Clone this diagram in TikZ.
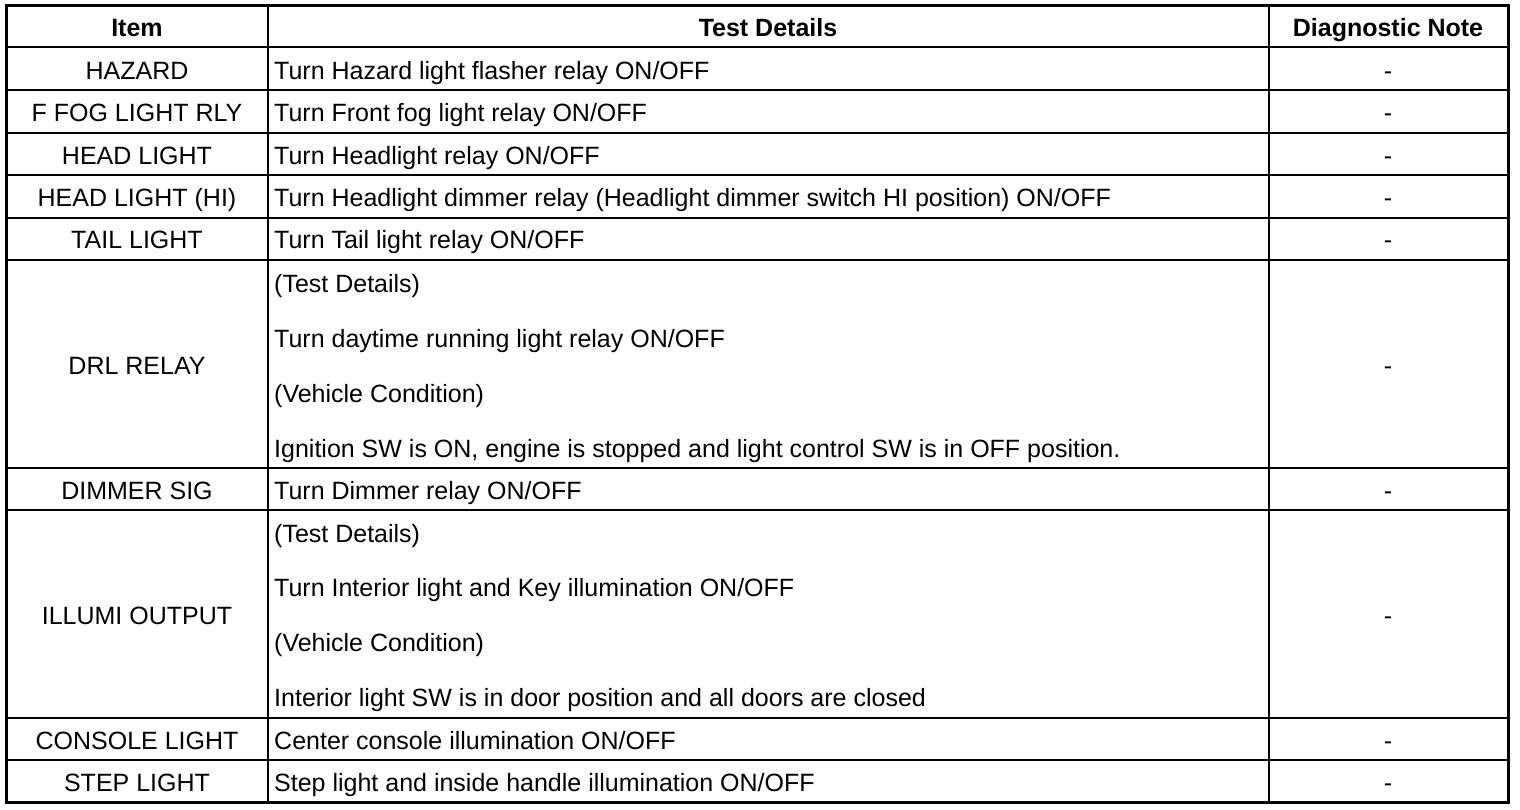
\documentclass[tikz,border=0pt]{standalone}
\usepackage{fontspec}
\setmainfont{Liberation Sans}
\begin{document}
\begin{tikzpicture}[x=1pt,y=-1pt,
  cell/.style={inner sep=0pt,text height=18pt,text depth=0pt,font=\fontsize{25}{28}\selectfont},
  head/.style={cell,font=\fontsize{25}{28}\selectfont\bfseries},
  det/.style={cell,anchor=west},
  outer/.style={line width=3pt},
  inner/.style={line width=2pt}]
\useasboundingbox (0,0) rectangle (1520,810);
% grid
\foreach \y in {47,90,133,175,218,260,468,510,718,760}
  \draw[inner] (6,\y) -- (1508,\y);
\draw[inner] (268,6) -- (268,802);
\draw[inner] (1269,6) -- (1269,802);
\draw[outer] (6,6) rectangle (1508,802);
% header
\node[head] (h1) at (137,28) {Item};
\node[head] (h2) at (768,28) {Test Details};
\node[head] (h3) at (1388,28) {Diagnostic Note};
% rows
\node[cell] (i1) at (137,71) {HAZARD};
\node[det] (d1) at (274,71) {Turn Hazard light flasher relay ON/OFF};
\node[cell] (n1) at (1388,71) {-};
\node[cell] (i2) at (137,113) {F FOG LIGHT RLY};
\node[det] (d2) at (274,113) {Turn Front fog light relay ON/OFF};
\node[cell] (n2) at (1388,113) {-};
\node[cell] (i3) at (137,156) {HEAD LIGHT};
\node[det] (d3) at (274,156) {Turn Headlight relay ON/OFF};
\node[cell] (n3) at (1388,156) {-};
\node[cell] (i4) at (137,198) {HEAD LIGHT (HI)};
\node[det] (d4) at (274,198) {Turn Headlight dimmer relay (Headlight dimmer switch HI position) ON/OFF};
\node[cell] (n4) at (1388,198) {-};
\node[cell] (i5) at (137,240) {TAIL LIGHT};
\node[det] (d5) at (274,240) {Turn Tail light relay ON/OFF};
\node[cell] (n5) at (1388,240) {-};
\node[cell] (i6) at (137,365) {DRL RELAY};
\node[det] (d6a) at (274,283) {(Test Details)};
\node[det] (d6b) at (274,338) {Turn daytime running light relay ON/OFF};
\node[det] (d6c) at (274,393) {(Vehicle Condition)};
\node[det] (d6d) at (274,448) {Ignition SW is ON, engine is stopped and light control SW is in OFF position.};
\node[cell] (n6) at (1388,365) {-};
\node[cell] (i7) at (137,490) {DIMMER SIG};
\node[det] (d7) at (274,490) {Turn Dimmer relay ON/OFF};
\node[cell] (n7) at (1388,490) {-};
\node[cell] (i8) at (137,615) {ILLUMI OUTPUT};
\node[det] (d8a) at (274,533) {(Test Details)};
\node[det] (d8b) at (274,587) {Turn Interior light and Key illumination ON/OFF};
\node[det] (d8c) at (274,642) {(Vehicle Condition)};
\node[det] (d8d) at (274,697) {Interior light SW is in door position and all doors are closed};
\node[cell] (n8) at (1388,615) {-};
\node[cell] (i9) at (137,740) {CONSOLE LIGHT};
\node[det] (d9) at (274,740) {Center console illumination ON/OFF};
\node[cell] (n9) at (1388,740) {-};
\node[cell] (i10) at (137,782) {STEP LIGHT};
\node[det] (d10) at (274,782) {Step light and inside handle illumination ON/OFF};
\node[cell] (n10) at (1388,782) {-};
\end{tikzpicture}
\end{document}
